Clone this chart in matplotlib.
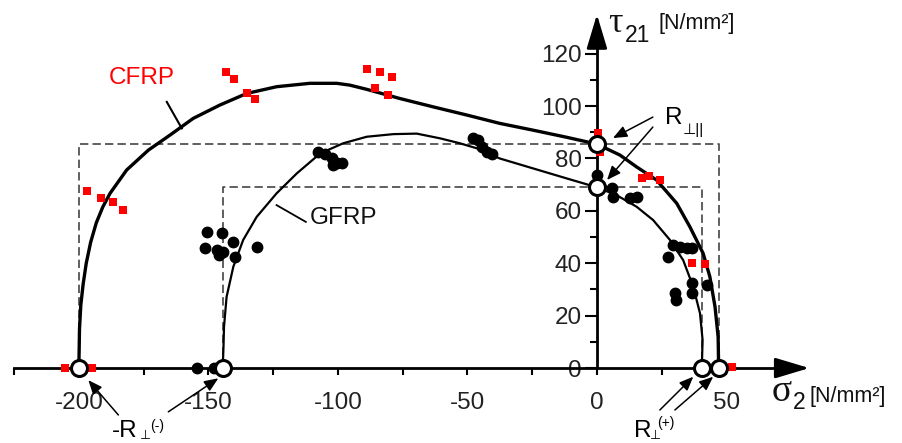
import matplotlib
matplotlib.use("Agg")
import matplotlib.pyplot as plt

plt.rcParams['font.family'] = ['Liberation Sans', 'DejaVu Sans']
plt.rcParams['axes.unicode_minus'] = False
plt.rcParams['lines.scale_dashes'] = False

# failure curves (sigma_2, tau_21)
cfrp_sigma = [-200, -200, -199.8, -199.3, -198.4, -197.2, -195.5, -193.3, -190.8, -188.0,
              -181.6, -173.2, -164.9, -155.9,
              -145.6, -135.3, -123.7, -110.8, -100.5, -95.4, -88.9, -76.1, -63.2, -50.3,
              -37.5, -24.6, -11.7, 0, 8.9, 15.3, 23.0, 30.8, 35.9, 41.0, 43.6, 45.6, 46.8, 47.0]
cfrp_tau = [0, 3.1, 15.0, 24.0, 32.0, 40.0, 48.0, 55.5, 61.5, 66.7,
            75.6, 83.2, 88.9, 95.3,
            100.4, 104.8, 107.4, 108.7, 108.7, 108.0, 106.4, 102.9, 99.7, 96.6,
            93.4, 90.8, 88.1, 85.5, 81.3, 76.8, 71.8, 62.9, 53.9, 43.8, 34.9, 23.4, 11.9, 0]

gfrp_sigma = [-144.5, -144.2, -144.0, -143.0, -140.4, -136.6, -131.4, -123.7, -115.9, -106.9, -98.0,
              -88.9, -78.6, -69.6, -60.6, -52.9, -46.4, -37.5, -24.6, -11.7, 0,
              7.6, 15.3, 21.7, 28.2, 33.3, 37.2, 39.8, 40.8, 40.5]
gfrp_tau = [0, 8.0, 15.8, 27.2, 38.7, 48.9, 57.7, 66.7, 74.3, 81.9, 85.8,
            88.3, 89.3, 89.5, 87.7, 85.8, 83.9, 80.0, 76.2, 72.4, 69.0,
            66.0, 61.6, 56.5, 48.9, 41.2, 31.0, 20.9, 10.7, 0]

# test results
cfrp_pts_sigma = [-143.2, -140.2, -135.1, -132.0, -88.8, -83.8, -79.2, -85.7, -80.7,
                  -196.9, -191.5, -186.9, -183.0, 0.5, 1.2, 17.3, 20.1, 24.3,
                  36.6, 41.7, 52.0, -205.4, -195.1]
cfrp_pts_tau = [113.0, 110.3, 105.0, 102.7, 114.1, 113.0, 111.0, 106.9, 104.2,
                67.6, 64.9, 63.4, 60.3, 89.6, 82.6, 72.4, 73.3, 71.8,
                40.0, 39.7, 0.3, 0, 0]

gfrp_pts_sigma = [-150.7, -144.9, -140.4, -151.4, -146.8, -144.3, -145.8, -139.8, -131.4,
                  -107.6, -105.0, -102.4, -100.5, -98.6, -101.8,
                  -47.8, -45.8, -44.5, -42.6, -40.7,
                  0, 5.7, 6.3, 12.7, 15.3,
                  29.5, 32.0, 34.6, 36.6, 27.5, 36.6, 36.6, 30.1, 30.5, 42.4,
                  -154.6, -148.0]
gfrp_pts_tau = [52.0, 51.4, 48.2, 45.7, 45.0, 44.4, 43.1, 42.5, 46.3,
                82.6, 81.9, 80.0, 78.1, 78.1, 77.5,
                87.7, 87.0, 84.5, 82.6, 81.9,
                73.7, 68.6, 65.4, 64.8, 65.4,
                46.9, 46.3, 45.7, 45.7, 42.5, 32.3, 28.5, 28.5, 26.0, 31.7,
                0, 0]

# strengths R_perp(-), R_perp||, R_perp(+)
cfrp_strength = {'comp': -200, 'shear': 85.5, 'tens': 47.0}
gfrp_strength = {'comp': -144.5, 'shear': 69.0, 'tens': 40.5}

x_major = [-200, -150, -100, -50, 0, 50]
x_minor = [-225, -175, -125, -75, -25, 25]
y_major = [0, 20, 40, 60, 80, 100, 120]
y_minor = [10, 30, 50, 70, 90, 110]

fig = plt.figure(figsize=(9.02, 4.43), dpi=100)
ax = fig.add_axes([0, 0, 1, 1])
ax.set_xlim(-230.5, 117.8)
ax.set_ylim(-28.6, 140.5)

# axes crossing at origin
for side in ['top', 'right']:
    ax.spines[side].set_visible(False)
ax.spines['left'].set_position(('data', 0))
ax.spines['bottom'].set_position(('data', 0))
ax.spines['left'].set_bounds(0, 125)
ax.spines['bottom'].set_bounds(-225, 73)
ax.spines['left'].set_linewidth(2)
ax.spines['bottom'].set_linewidth(2)
head = dict(arrowstyle='-|>,head_length=1.0,head_width=0.3',
            mutation_scale=21, color='k', lw=2, shrinkA=0, shrinkB=0)
ax.annotate('', xy=(82, 0), xytext=(70, 0), arrowprops=head)
ax.annotate('', xy=(0, 135), xytext=(0, 123), arrowprops=head)

ax.set_xticks(x_major)
ax.set_xticklabels([str(v) for v in x_major])
ax.set_xticks(x_minor, minor=True)
ax.set_yticks(y_major)
ax.set_yticklabels([str(v) for v in y_major])
ax.set_yticks(y_minor, minor=True)
ax.tick_params(axis='x', which='both', direction='out', length=5, width=1.5,
               labelsize=17.5, pad=12, labelcolor='#222222')
ax.tick_params(axis='y', which='major', direction='out', length=9, width=1.5,
               labelsize=17.5, pad=2, labelcolor='#222222')
ax.tick_params(axis='y', which='minor', direction='out', length=5, width=1.5)

# strength rectangles
for s in (cfrp_strength, gfrp_strength):
    ax.plot([s['comp'], s['comp'], s['tens'], s['tens']],
            [0, s['shear'], s['shear'], 0],
            color='#444444', lw=1.2, dashes=(6, 3), zorder=2)

# failure curves
ax.plot(cfrp_sigma, cfrp_tau, color='k', lw=2.4, zorder=3, solid_joinstyle='round')
ax.plot(gfrp_sigma, gfrp_tau, color='k', lw=1.6, zorder=3, solid_joinstyle='round')

# test points
ax.plot(gfrp_pts_sigma, gfrp_pts_tau, 'o', color='k', ms=7.5, zorder=4)
ax.plot(cfrp_pts_sigma, cfrp_pts_tau, 's', color='#ff0000', ms=6, mew=0, zorder=4)

# strength markers
for s in (cfrp_strength, gfrp_strength):
    ax.plot([s['comp'], 0, s['tens']], [0, s['shear'], 0], 'o', ms=11.5,
            mfc='white', mec='k', mew=2.2, zorder=5)

# curve labels
ax.text(-175.8, 110.6, 'CFRP', color='#ff0000', fontsize=17.5, ha='center', va='center')
ax.plot([-160.3, -166.1], [91.5, 101.6], color='k', lw=1.5)
ax.text(-97.7, 57.4, 'GFRP', color='#111111', fontsize=17.5, ha='center', va='center')
ax.plot([-123.7, -112.4], [62.2, 55.8], color='k', lw=1.3)

# axis titles
ax.text(7.1, 131.5, 'τ', family=['Liberation Serif', 'DejaVu Serif'], fontsize=26,
        ha='center', va='center', color='#111111')
ax.text(10.8, 127.0, '21', fontsize=16.5, ha='left', va='center', color='#111111')
ax.text(23.6, 131.7, '[N/mm²]', fontsize=15.5, ha='left', va='center', color='#111111')
ax.text(71.4, -9.2, 'σ', family=['Liberation Serif', 'DejaVu Serif'], fontsize=27,
        ha='center', va='center', color='#111111')
ax.text(75.7, -13.0, '2', fontsize=16.5, ha='left', va='center', color='#111111')
ax.text(82.2, -10.7, '[N/mm²]', fontsize=15.5, ha='left', va='center', color='#111111')

# strength annotations
arrow = dict(arrowstyle='-|>,head_length=0.6,head_width=0.25', mutation_scale=14,
             color='k', lw=1.1, shrinkA=0, shrinkB=0)
ax.text(29.5, 95.4, 'R', fontsize=17.5, ha='center', va='center')
ax.text(33.2, 90.8, '⊥||', fontsize=11, ha='left', va='center')
ax.annotate('', xy=(6.2, 87.8), xytext=(21.6, 95.8), arrowprops=arrow)
ax.annotate('', xy=(3.9, 71.8), xytext=(21.6, 92.0), arrowprops=arrow)

ax.text(-182.2, -24.0, '-R', fontsize=17.5, ha='center', va='center')
ax.text(-176.4, -28.4, '⊥', fontsize=9, ha='left', va='bottom')
ax.text(-172.6, -22.0, '(-)', fontsize=10, ha='left', va='center')
ax.annotate('', xy=(-196.4, -4.6), xytext=(-184.8, -17.9), arrowprops=arrow)
ax.annotate('', xy=(-146.2, -3.9), xytext=(-165.5, -16.7), arrowprops=arrow)

ax.text(17.6, -24.0, 'R', fontsize=17.5, ha='center', va='center')
ax.text(20.5, -28.4, '⊥', fontsize=9, ha='left', va='bottom')
ax.text(23.2, -21.0, '(+)', fontsize=10, ha='left', va='center')
ax.annotate('', xy=(37.2, -3.3), xytext=(24.3, -16.0), arrowprops=arrow)
ax.annotate('', xy=(44.9, -3.3), xytext=(30.1, -16.0), arrowprops=arrow)

fig.savefig('out.png', dpi=100, facecolor='white')
